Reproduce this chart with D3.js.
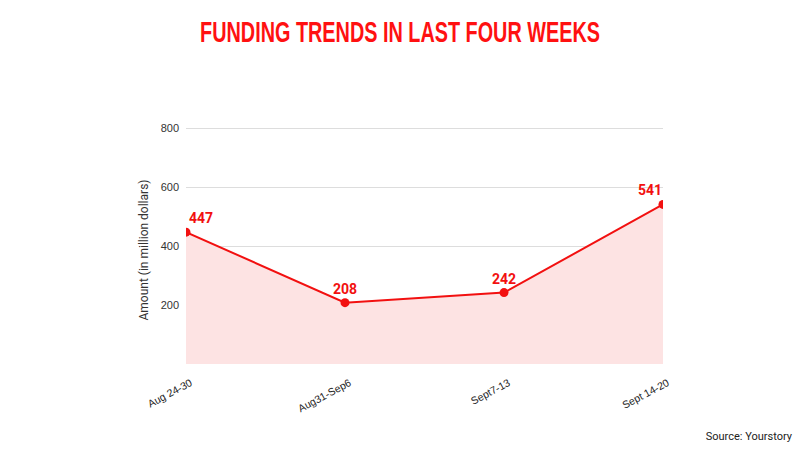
<!DOCTYPE html>
<html><head><meta charset="utf-8">
<script src="https://cdn.jsdelivr.net/npm/d3@7"></script>
<style>body{margin:0;background:#fff;}svg{display:block;}</style>
</head><body>
<svg id="c" width="800" height="450"></svg>
<script>
const categories = ["Aug 24-30", "Aug31-Sep6", "Sept7-13", "Sept 14-20"];
const values = [447, 208, 242, 541];
const yTicks = [200, 400, 600, 800];

const svg = d3.select("#c");
const m = {l:186, r:663, t:128, b:364};
const x = d3.scalePoint().domain(categories).range([m.l, m.r]);
const y = d3.scaleLinear().domain([0, 800]).range([m.b, m.t]);
const red = "#f21010";

const title = svg.append("text").attr("text-anchor", "middle")
  .attr("font-family", "'Liberation Sans', Arial, sans-serif")
  .attr("font-weight", "bold").attr("font-size", 30).attr("fill", "#ff1111")
  .text("FUNDING TRENDS IN LAST FOUR WEEKS");
const tw = title.node().getComputedTextLength();
title.attr("transform", `translate(400,42) scale(${400 / tw},1)`);

// gridlines
const ya = d3.axisLeft(y).tickValues(yTicks).tickSize(-(m.r - m.l)).tickPadding(7);
const gy = svg.append("g").attr("transform", `translate(${m.l},0)`).call(ya);
gy.select(".domain").remove();
gy.selectAll(".tick line").attr("stroke", "#dddddd");
gy.selectAll(".tick text").attr("font-family", "'Liberation Sans', Arial, sans-serif").attr("font-size", 11).attr("fill", "#333");

svg.append("defs").append("clipPath").attr("id", "clip")
  .append("rect").attr("x", m.l).attr("y", 0).attr("width", m.r - m.l).attr("height", m.b);

const data = categories.map((c, i) => ({c, v: values[i]}));
const g = svg.append("g").attr("clip-path", "url(#clip)");
g.append("path").datum(data)
  .attr("d", d3.area().x(d => x(d.c)).y0(y(0)).y1(d => y(d.v)))
  .attr("fill", "#fde3e3");
g.append("path").datum(data)
  .attr("d", d3.line().x(d => x(d.c)).y(d => y(d.v)))
  .attr("fill", "none").attr("stroke", red).attr("stroke-width", 2);
g.selectAll("circle").data(data).join("circle")
  .attr("cx", d => x(d.c)).attr("cy", d => y(d.v)).attr("r", 4.5).attr("fill", red);

svg.selectAll(".lbl").data(data).join("text")
  .attr("x", (d, i) => x(d.c) + (i === 0 ? 3 : i === data.length - 1 ? -1 : 0))
  .attr("y", d => y(d.v) - 9)
  .attr("text-anchor", (d, i) => i === 0 ? "start" : i === data.length - 1 ? "end" : "middle")
  .attr("font-family", "Roboto, sans-serif").attr("font-weight", "bold").attr("font-size", 14)
  .attr("fill", red).text(d => d.v);

// x axis labels
svg.selectAll(".xl").data(categories).join("text")
  .attr("transform", c => `translate(${x(c) + 7},${m.b + 21}) rotate(-28)`)
  .attr("text-anchor", "end")
  .attr("font-family", "'Liberation Sans', Arial, sans-serif").attr("font-size", 10.5).attr("fill", "#222")
  .text(c => c);

svg.append("text").attr("transform", `translate(148,${(m.t + m.b) / 2 + 4}) rotate(-90)`)
  .attr("text-anchor", "middle").attr("font-family", "Roboto, sans-serif").attr("font-size", 12).attr("fill", "#333")
  .text("Amount (in million dollars)");

svg.append("text").attr("x", 792).attr("y", 440).attr("text-anchor", "end")
  .attr("font-family", "Roboto, sans-serif").attr("font-size", 11).attr("fill", "#222")
  .text("Source: Yourstory");
</script>
</body></html>
